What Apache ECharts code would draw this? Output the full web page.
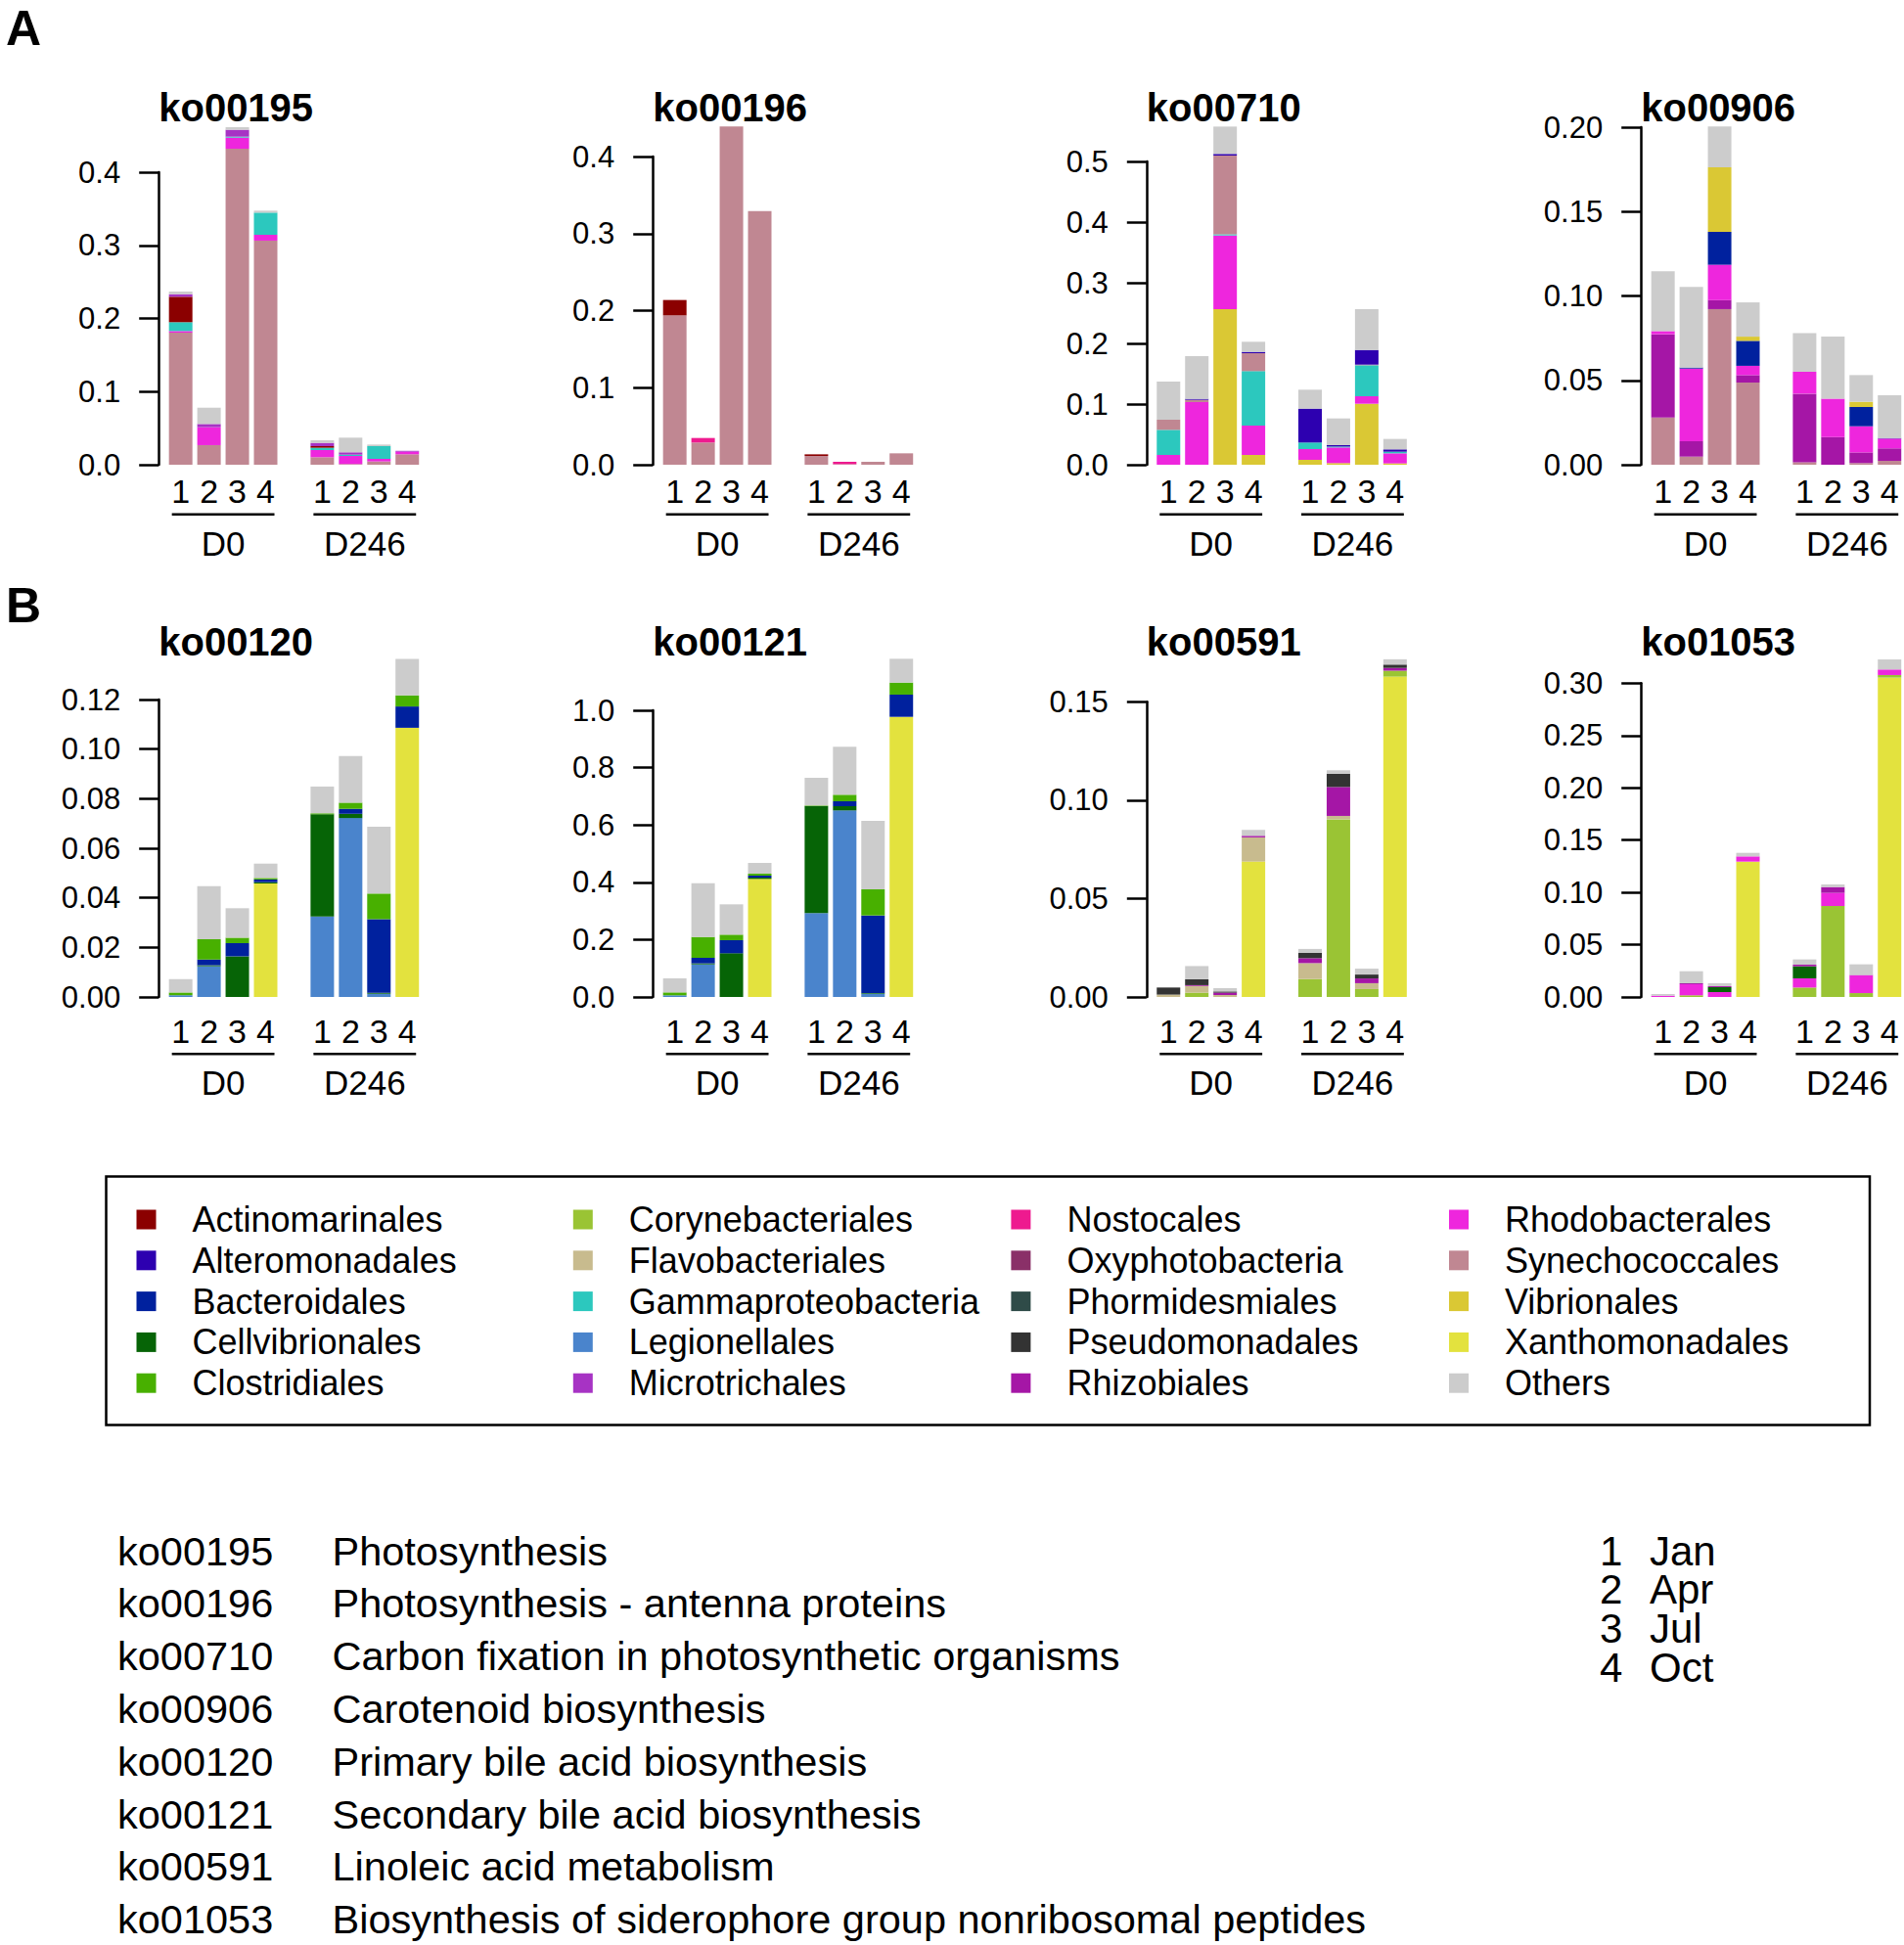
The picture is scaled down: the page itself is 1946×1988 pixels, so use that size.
<!DOCTYPE html>
<html>
<head>
<meta charset="utf-8">
<script src="https://cdn.jsdelivr.net/npm/echarts@6/dist/echarts.min.js"></script>
<style>
html, body { margin: 0; padding: 0; background: #fff; }
#chart { width: 1946px; height: 1988px; }
</style>
</head>
<body>
<div id="chart"></div>
<script>
// x categories: 4 months per site, blank slot between the two sites
const months = ['1', '2', '3', '4', '', '1', '2', '3', '4'];
const groups = ['D0', 'D246'];

const taxa = [
  'Actinomarinales', 'Alteromonadales', 'Bacteroidales', 'Cellvibrionales', 'Clostridiales',
  'Corynebacteriales', 'Flavobacteriales', 'Gammaproteobacteria', 'Legionellales', 'Microtrichales',
  'Nostocales', 'Oxyphotobacteria', 'Phormidesmiales', 'Pseudomonadales', 'Rhizobiales',
  'Rhodobacterales', 'Synechococcales', 'Vibrionales', 'Xanthomonadales', 'Others'
];
const taxaColors = [
  '#8B0000', '#2D00B0', '#00219E', '#066406', '#48B000',
  '#9AC434', '#C8BB8E', '#2CC8BE', '#4A84CC', '#A733C4',
  '#EE1A8F', '#8A3068', '#2F4B48', '#333333', '#A516A6',
  '#EE26DD', '#C08792', '#DAC834', '#E3E23E', '#CCCCCC'
];

// stacked values (bottom to top), '-' = empty slot between D0 and D246
const ko00195 = {
  Synechococcales:     [0.1806, 0.0268, 0.4321, 0.3064, '-', 0.0103, 0.0010, 0.0045, 0.0143],
  Rhodobacterales:     [0.0022, 0.0245, 0.0152, 0.0080, '-', 0.0098, 0.0110, 0.0035, 0.0035],
  Gammaproteobacteria: [0.0121, 0, 0.0013, 0.0303, '-', 0.0031, 0.0018, 0.0174, 0],
  Actinomarinales:     [0.0348, 0, 0, 0, '-', 0.0022, 0, 0, 0],
  Microtrichales:      [0.0035, 0.0044, 0.0094, 0, '-', 0.0045, 0.0032, 0, 0.0012],
  Others:              [0.0036, 0.0223, 0.0035, 0.0027, '-', 0.0035, 0.0200, 0.0022, 0]
};
const ko00196 = {
  Synechococcales: [0.1939, 0.0288, 0.4389, 0.3293, '-', 0.0114, 0.0008, 0.0038, 0.0148],
  Actinomarinales: [0.0199, 0, 0, 0, '-', 0.0021, 0, 0, 0],
  Nostocales:      [0, 0.0059, 0, 0, '-', 0, 0.0030, 0, 0]
};
const ko00710 = {
  Vibrionales:         [0, 0, 0.2565, 0.0161, '-', 0.0081, 0.0027, 0.1005, 0.0022],
  Rhodobacterales:     [0.0161, 0.1032, 0.1215, 0.0484, '-', 0.0177, 0.0258, 0.0124, 0.0166],
  Gammaproteobacteria: [0.0414, 0, 0.0020, 0.0898, '-', 0.0108, 0.0015, 0.0511, 0.0027],
  Synechococcales:     [0.0167, 0.0038, 0.1297, 0.0296, '-', 0, 0, 0.0010, 0],
  Alteromonadales:     [0, 0.0016, 0.0027, 0.0021, '-', 0.0559, 0.0023, 0.0242, 0.0038],
  Others:              [0.0629, 0.0704, 0.0451, 0.0167, '-', 0.0312, 0.0440, 0.0673, 0.0172]
};
const ko00906 = {
  Synechococcales: [0.0280, 0.0048, 0.0922, 0.0487, '-', 0.0015, 0, 0.0010, 0.0023],
  Rhizobiales:     [0.0493, 0.0091, 0.0054, 0.0044, '-', 0.0406, 0.0164, 0.0063, 0.0074],
  Rhodobacterales: [0.0019, 0.0431, 0.0209, 0.0055, '-', 0.0130, 0.0228, 0.0155, 0.0058],
  Bacteroidales:   [0, 0.0006, 0.0195, 0.0148, '-', 0, 0, 0.0114, 0.0003],
  Vibrionales:     [0, 0, 0.0382, 0.0025, '-', 0, 0, 0.0031, 0],
  Others:          [0.0354, 0.0477, 0.0242, 0.0203, '-', 0.0228, 0.0367, 0.0158, 0.0254]
};
const ko00120 = {
  Xanthomonadales: [0, 0, 0, 0.0458, '-', 0, 0, 0, 0.1086],
  Legionellales:   [0.0007, 0.0124, 0, 0, '-', 0.0325, 0.0722, 0.0013, 0],
  Cellvibrionales: [0, 0.0004, 0.0164, 0.0005, '-', 0.0412, 0.0017, 0.0004, 0],
  Bacteroidales:   [0, 0.0023, 0.0053, 0.0011, '-', 0, 0.0020, 0.0297, 0.0086],
  Clostridiales:   [0.0011, 0.0082, 0.0022, 0.0006, '-', 0.0004, 0.0025, 0.0103, 0.0045],
  Others:          [0.0054, 0.0214, 0.0119, 0.0058, '-', 0.0108, 0.0188, 0.0270, 0.0147]
};
const ko00121 = {
  Xanthomonadales: [0, 0, 0, 0.4118, '-', 0, 0, 0, 0.9772],
  Legionellales:   [0.0057, 0.1138, 0, 0, '-', 0.2924, 0.6507, 0.0114, 0],
  Cellvibrionales: [0, 0.0034, 0.1524, 0.0046, '-', 0.3731, 0.0148, 0.0023, 0],
  Bacteroidales:   [0, 0.0193, 0.0456, 0.0068, '-', 0, 0.0171, 0.2707, 0.0774],
  Clostridiales:   [0.0102, 0.0728, 0.0193, 0.0068, '-', 0.0023, 0.0227, 0.0910, 0.0421],
  Others:          [0.0489, 0.1877, 0.1058, 0.0376, '-', 0.0967, 0.1673, 0.2389, 0.0830]
};
const ko00591 = {
  Xanthomonadales:   [0, 0, 0, 0.0688, '-', 0, 0, 0, 0.1628],
  Corynebacteriales: [0, 0.0022, 0, 0, '-', 0.0091, 0.0903, 0.0040, 0.0030],
  Flavobacteriales:  [0.0012, 0.0034, 0.0010, 0.0123, '-', 0.0081, 0.0017, 0.0030, 0],
  Rhizobiales:       [0, 0.0004, 0.0012, 0.0008, '-', 0.0025, 0.0147, 0.0024, 0.0014],
  Pseudomonadales:   [0.0036, 0.0030, 0.0006, 0, '-', 0.0028, 0.0067, 0.0020, 0.0017],
  Others:            [0, 0.0067, 0.0017, 0.0030, '-', 0.0019, 0.0018, 0.0030, 0.0027]
};
const ko01053 = {
  Xanthomonadales:   [0, 0, 0, 0.1294, '-', 0, 0, 0, 0.3053],
  Corynebacteriales: [0, 0.0016, 0, 0, '-', 0.0090, 0.0870, 0.0037, 0.0025],
  Rhodobacterales:   [0.0012, 0.0106, 0.0047, 0.0050, '-', 0.0088, 0.0125, 0.0169, 0.0053],
  Cellvibrionales:   [0, 0, 0.0047, 0, '-', 0.0115, 0, 0, 0],
  Rhizobiales:       [0, 0.0009, 0.0009, 0, '-', 0.0016, 0.0056, 0.0004, 0],
  Others:            [0.0016, 0.0115, 0.0028, 0.0034, '-', 0.0050, 0.0025, 0.0102, 0.0096]
};

const panelIds = ['ko00195', 'ko00196', 'ko00710', 'ko00906', 'ko00120', 'ko00121', 'ko00591', 'ko01053'];
const panelData = [ko00195, ko00196, ko00710, ko00906, ko00120, ko00121, ko00591, ko01053];
const yMax = [0.4, 0.4, 0.5, 0.2, 0.12, 1.0, 0.15, 0.30];
const yStep = [0.1, 0.1, 0.1, 0.05, 0.02, 0.2, 0.05, 0.05];
const yDigits = [1, 1, 1, 2, 2, 1, 2, 2];

const pathways = [
  ['ko00195', 'Photosynthesis'],
  ['ko00196', 'Photosynthesis - antenna proteins'],
  ['ko00710', 'Carbon fixation in photosynthetic organisms'],
  ['ko00906', 'Carotenoid biosynthesis'],
  ['ko00120', 'Primary bile acid biosynthesis'],
  ['ko00121', 'Secondary bile acid biosynthesis'],
  ['ko00591', 'Linoleic acid metabolism'],
  ['ko01053', 'Biosynthesis of siderophore group nonribosomal peptides']
];
const monthNames = [['1', 'Jan'], ['2', 'Apr'], ['3', 'Jul'], ['4', 'Oct']];

// layout (px)
const FONT = '"Liberation Sans", Arial, Helvetica, sans-serif';
const colLeft = [170.2, 675.2, 1179.8, 1685.2];
const rowBase = [475, 1019];
const gridTops = [176, 160, 165, 130, 715, 726, 717.3, 698.3];
const tickLabelMargin = [10, 17.5];
const underlineOff = [50.7, 58.3];
const groupLabelOff = [80, 87.7];
const titleCenter = [110.7, 656.7];

const colorOf = name => taxaColors[taxa.indexOf(name)];

const grids = [], xAxes = [], yAxes = [], titles = [], series = [];
panelIds.forEach((id, i) => {
  const row = i < 4 ? 0 : 1;
  const col = i % 4;
  const base = rowBase[row];
  grids.push({ left: colLeft[col], top: gridTops[i], width: 260.5, height: base - gridTops[i], outerBoundsMode: 'none' });
  xAxes.push({
    type: 'category', gridIndex: i, data: months,
    axisLine: { show: false }, axisTick: { show: false }, splitLine: { show: false },
    axisLabel: { interval: 0, fontSize: 34, color: '#000', fontFamily: FONT, margin: tickLabelMargin[row] }
  });
  yAxes.push({
    type: 'value', gridIndex: i, min: 0, max: yMax[i], interval: yStep[i], offset: 8,
    splitLine: { show: false },
    axisLine: { show: true, lineStyle: { color: '#000', width: 2.5 } },
    axisTick: { show: true, length: 20, lineStyle: { color: '#000', width: 2.5 } },
    axisLabel: { fontSize: 31, color: '#000', fontFamily: FONT, margin: 39,
      formatter: v => v.toFixed(yDigits[i]) }
  });
  titles.push({
    text: id, left: colLeft[col] - 8, top: titleCenter[row] - 21, padding: 0,
    textStyle: { fontSize: 40, fontWeight: 'bold', color: '#000', fontFamily: FONT }
  });
  Object.keys(panelData[i]).forEach(name => {
    series.push({
      type: 'bar', name: name, xAxisIndex: i, yAxisIndex: i, stack: 'p' + i,
      data: panelData[i][name], barWidth: 24, clip: false, silent: true,
      itemStyle: { color: colorOf(name) }
    });
  });
});
// taxa listed in the key without bars in these panels
taxa.forEach(name => {
  if (!series.some(s => s.name === name)) {
    series.push({ type: 'bar', name: name, xAxisIndex: 0, yAxisIndex: 0, stack: 'p0',
      data: [], barWidth: 24, itemStyle: { color: colorOf(name) } });
  }
});

const legendLeft = [139.5, 585.8, 1033.4, 1481];
const legends = [0, 1, 2, 3].map(c => ({
  orient: 'vertical', left: legendLeft[c], top: 1225.6, padding: 0,
  data: taxa.slice(c * 5, c * 5 + 5),
  icon: 'rect', itemWidth: 20, itemHeight: 20, itemGap: 0, selectedMode: false,
  textStyle: { fontSize: 36, color: '#000', fontFamily: FONT, lineHeight: 41.8, padding: [0, 0, 0, 32] }
}));

const chart = echarts.init(document.getElementById('chart'), null, { renderer: 'svg' });
chart.setOption({
  animation: false,
  backgroundColor: '#fff',
  textStyle: { fontFamily: FONT },
  title: titles,
  legend: legends,
  grid: grids,
  xAxis: xAxes,
  yAxis: yAxes,
  series: series
});

// annotations: site groups under each panel, key box, descriptions
const txt = (text, x, y, size, opts) => Object.assign({
  type: 'text', x: x, y: y,
  style: Object.assign({ text: text, fontSize: size, fontFamily: FONT, fill: '#000',
    align: 'left', verticalAlign: 'middle' }, opts || {})
});
const gfx = [];
panelIds.forEach((id, i) => {
  const row = i < 4 ? 0 : 1;
  const base = rowBase[row];
  [[0, 3], [5, 8]].forEach((span, g) => {
    const xa = chart.convertToPixel({ xAxisIndex: i }, span[0]);
    const xb = chart.convertToPixel({ xAxisIndex: i }, span[1]);
    gfx.push({ type: 'line', shape: { x1: xa - 9, y1: base + underlineOff[row], x2: xb + 9, y2: base + underlineOff[row] },
      style: { stroke: '#000', lineWidth: 2.5 } });
    gfx.push(txt(groups[g], (xa + xb) / 2, base + groupLabelOff[row], 35, { align: 'center' }));
  });
});
gfx.push(txt('A', 6, 29, 50, { fontWeight: 'bold', lineHeight: 44 }));
gfx.push(txt('B', 6, 619, 50, { fontWeight: 'bold', lineHeight: 44 }));
gfx.push({ type: 'rect', shape: { x: 108.5, y: 1202.5, width: 1802.5, height: 254 },
  style: { fill: 'none', stroke: '#000', lineWidth: 2.5 } });
pathways.forEach((p, k) => {
  const y = 1585 + k * 53.8;
  gfx.push(txt(p[0], 120, y, 41.5, { lineHeight: 46 }));
  gfx.push(txt(p[1], 339.5, y, 41.5, { lineHeight: 46 }));
});
monthNames.forEach((m, k) => {
  const y = 1585 + k * 39.7;
  gfx.push(txt(m[0], 1635, y, 42, { lineHeight: 38 }));
  gfx.push(txt(m[1], 1686, y, 42, { lineHeight: 38 }));
});
chart.setOption({ graphic: gfx });
</script>
</body>
</html>
